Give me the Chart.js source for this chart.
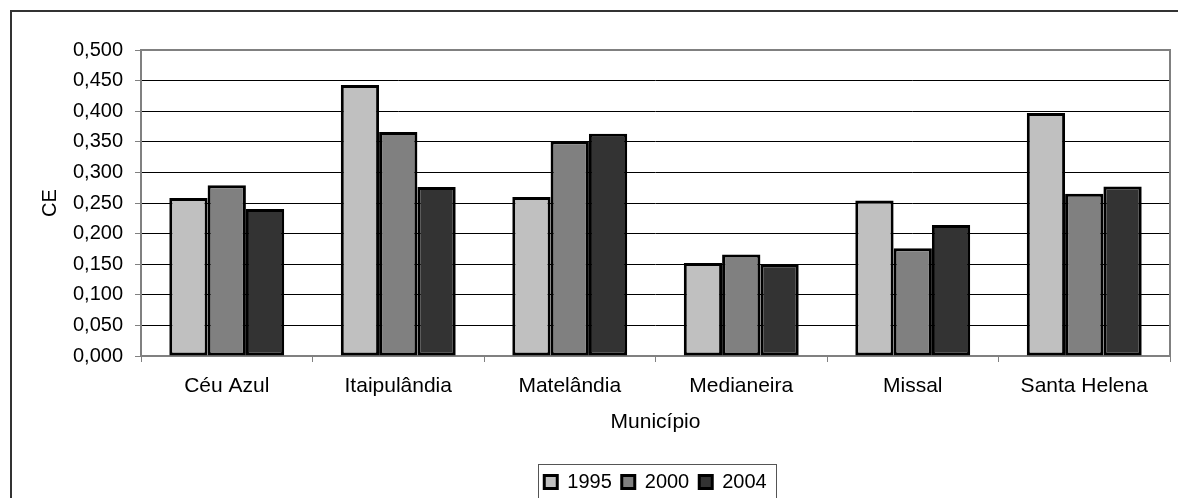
<!DOCTYPE html>
<html>
<head>
<meta charset="utf-8">
<script src="https://cdn.jsdelivr.net/npm/chart.js@4/dist/chart.umd.min.js"></script>
<style>
  html, body { margin: 0; padding: 0; background: #fff; overflow: hidden; }
  #frame { position: absolute; left: 10px; top: 10px; width: 2000px; height: 2000px;
           border-top: 2px solid #333; border-left: 2px solid #333; box-sizing: border-box; }
  #wrap { position: absolute; left: 0; top: 0; width: 1178px; height: 510px; }
</style>
</head>
<body>
<div id="frame"></div>
<div id="wrap"><canvas id="chart"></canvas></div>
<script>
const categories = ['Céu Azul', 'Itaipulândia', 'Matelândia', 'Medianeira', 'Missal', 'Santa Helena'];
const ce1995 = [0.258, 0.443, 0.260, 0.152, 0.254, 0.397];
const ce2000 = [0.279, 0.366, 0.351, 0.166, 0.176, 0.265];
const ce2004 = [0.240, 0.276, 0.363, 0.150, 0.214, 0.277];
const seriesLabels = ['1995', '2000', '2004'];

Chart.defaults.font.family = '"Liberation Sans", Arial, sans-serif';
Chart.defaults.font.size = 20;
Chart.defaults.color = '#000';

// gray frame around the plot area
const plotFrame = {
    id: 'plotFrame',
    beforeDatasetsDraw(chart) {
        const { ctx, chartArea: a } = chart;
        ctx.save();
        ctx.strokeStyle = '#808080';
        ctx.lineWidth = 2;
        ctx.strokeRect(a.left, a.top, a.right - a.left, a.bottom - a.top);
        ctx.restore();
    }
};

// box round the legend
const legendBox = {
    id: 'legendBox',
    afterDraw(chart) {
        const boxes = chart.legend.legendHitBoxes;
        if (!boxes || !boxes.length) return;
        const left = Math.min(...boxes.map(b => b.left)) - 6;
        const right = Math.max(...boxes.map(b => b.left + b.width)) + 10;
        const top = boxes[0].top - 8;
        const bottom = boxes[0].top + boxes[0].height + 8;
        const ctx = chart.ctx;
        ctx.save();
        ctx.strokeStyle = '#555';
        ctx.lineWidth = 1;
        ctx.strokeRect(Math.round(left) + 0.5, Math.round(top) + 0.5, Math.round(right - left), Math.round(bottom - top));
        ctx.restore();
    }
};

const ctx = document.getElementById('chart').getContext('2d');
new Chart(ctx, {
    type: 'bar',
    data: {
        labels: categories,
        datasets: [
            { label: seriesLabels[0], data: ce1995, backgroundColor: '#c0c0c0' },
            { label: seriesLabels[1], data: ce2000, backgroundColor: '#808080' },
            { label: seriesLabels[2], data: ce2004, backgroundColor: '#333333' },
        ].map(ds => Object.assign(ds, {
            borderColor: '#000',
            borderWidth: 3,
            borderSkipped: false,
            barPercentage: 1,
            categoryPercentage: 0.67,
        })),
    },
    options: {
        responsive: true,
        maintainAspectRatio: false,
        animation: false,
        layout: { padding: { left: 10, top: 50, right: 8, bottom: 8 } },
        plugins: {
            tooltip: { enabled: false },
            legend: {
                position: 'bottom',
                fullSize: false,
                labels: { boxWidth: 13, boxHeight: 13, padding: 10, color: '#000' },
            },
        },
        scales: {
            x: {
                grid: { offset: true, drawOnChartArea: false, drawTicks: true, tickLength: 6, color: '#808080', lineWidth: 1 },
                border: { display: false },
                ticks: { padding: 12, maxRotation: 0, autoSkip: false, font: { size: 21 } },
                title: { display: true, text: 'Município', font: { size: 21 }, padding: { top: 0, bottom: 27 } },
                afterFit: (scale) => { scale.height = 106; },
            },
            y: {
                min: 0,
                max: 0.5,
                grid: { color: '#000', lineWidth: 1, tickLength: 6, tickColor: '#808080' },
                border: { display: false },
                ticks: {
                    stepSize: 0.05,
                    padding: 12,
                    callback: (v) => v.toFixed(3).replace('.', ','),
                },
                title: { display: true, text: 'CE', padding: { top: 28, bottom: 0 } },
                afterFit: (scale) => { scale.width = 131; },
            },
        },
    },
    plugins: [plotFrame, legendBox],
});
</script>
</body>
</html>
